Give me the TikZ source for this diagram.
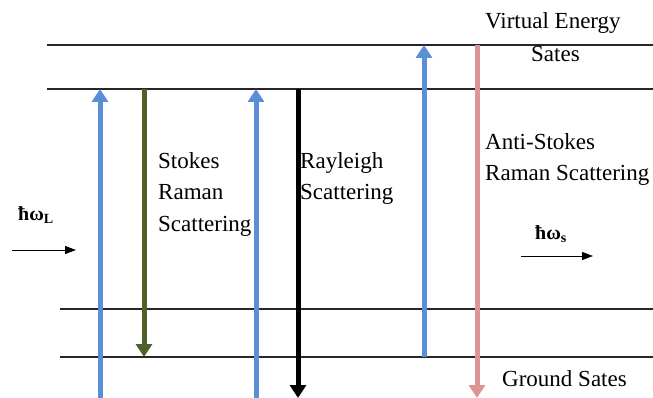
\documentclass[tikz,border=0pt]{standalone}
\usepackage{fontspec}
\setmainfont{Liberation Serif}
\usetikzlibrary{arrows.meta}
\definecolor{photonblue}{RGB}{88,143,214}
\definecolor{stokesgreen}{RGB}{79,98,40}
\definecolor{antipink}{RGB}{217,150,148}
\tikzset{
  level/.style={line width=1.1pt, black!85},
  transition/.style={line width=5pt, -{Triangle[width=16pt,length=13pt]}},
  beam/.style={line width=1pt, -{Triangle[width=8pt,length=11pt]}},
  label/.style={anchor=base west, inner sep=0pt, font=\fontsize{23}{31}\selectfont},
  quantum/.style={anchor=base west, inner sep=0pt, font=\fontsize{20}{24}\selectfont\bfseries}
}
\begin{document}
\begin{tikzpicture}[x=1pt,y=-1pt]
\useasboundingbox (0,0) rectangle (653,398);
% energy levels
\coordinate (v1a) at (47,45);  \coordinate (v1b) at (653,45);
\coordinate (v2a) at (47,89);  \coordinate (v2b) at (653,89);
\coordinate (g1a) at (60,309); \coordinate (g1b) at (653,309);
\coordinate (g2a) at (60,357); \coordinate (g2b) at (653,357);
\draw[level] (v1a) -- (v1b);
\draw[level] (v2a) -- (v2b);
\draw[level] (g1a) -- (g1b);
\draw[level] (g2a) -- (g2b);
% transition end points
\coordinate (b1s) at (100,398); \coordinate (b1e) at (100,89);
\coordinate (gs) at (144,89);   \coordinate (ge) at (144,357);
\coordinate (b2s) at (256,398); \coordinate (b2e) at (256,89);
\coordinate (ks) at (298,89);   \coordinate (ke) at (298,398);
\coordinate (b3s) at (424,357); \coordinate (b3e) at (424,45);
\coordinate (ps) at (477,45);   \coordinate (pe) at (477,398);
% transitions
\draw[transition, photonblue] (b1s) -- (b1e);
\draw[transition, stokesgreen] (gs) -- (ge);
\draw[transition, photonblue] (b2s) -- (b2e);
\draw[transition, black] (ks) -- (ke);
\draw[transition, photonblue] (b3s) -- (b3e);
\draw[transition, antipink] (ps) -- (pe);
% incoming and scattered photons
\coordinate (inA) at (12,250);  \coordinate (inB) at (76,250);
\coordinate (outA) at (521,256); \coordinate (outB) at (593,256);
\draw[beam] (inA) -- (inB);
\draw[beam] (outA) -- (outB);
\node[quantum] (wl) at (18,220) {ħω\textsubscript{L}};
\node[quantum] (ws) at (535,239) {ħω\textsubscript{s}};
% labels
\node[label] (virt) at (485,29) {Virtual Energy};
\node[label] (vsat) at (531,62) {Sates};
\node[label] (st1) at (158,169) {Stokes};
\node[label] (st2) at (158,200) {Raman};
\node[label] (st3) at (158,231) {Scattering};
\node[label] (ry1) at (300,169) {Rayleigh};
\node[label] (ry2) at (300,200) {Scattering};
\node[label] (as1) at (485,150) {Anti-Stokes};
\node[label] (as2) at (485,181) {Raman Scattering};
\node[label] (gnd) at (502,386) {Ground Sates};
\end{tikzpicture}
\end{document}
